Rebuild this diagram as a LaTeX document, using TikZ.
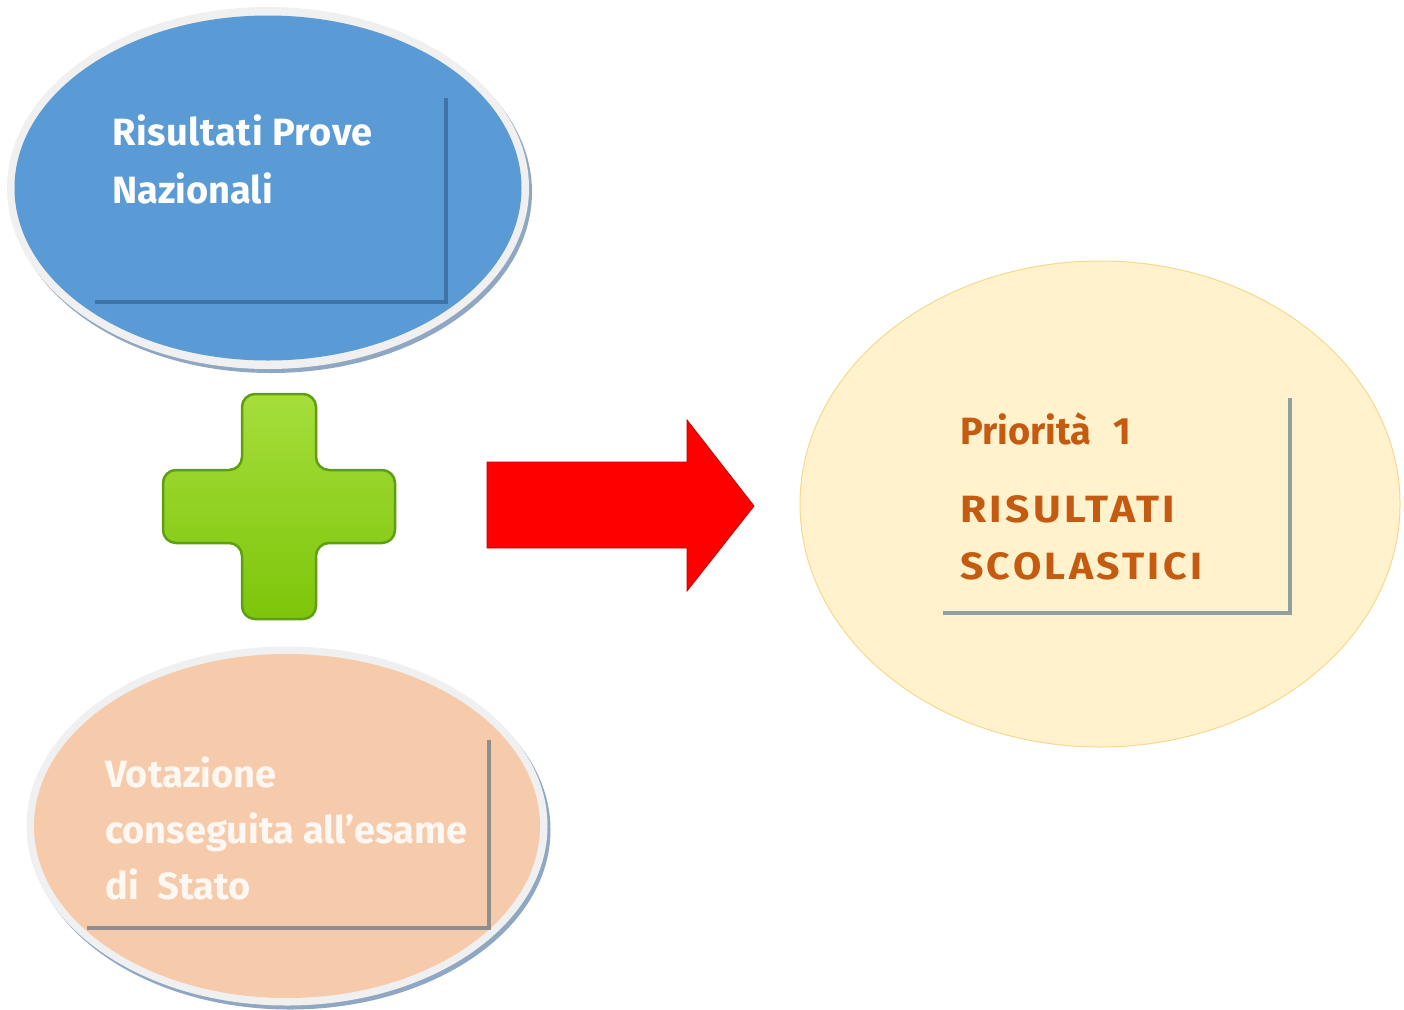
\documentclass[tikz,border=0pt]{standalone}
\usepackage{fontspec}
\setmainfont{Fira Sans}
\usetikzlibrary{shapes.geometric}
\definecolor{blueF}{HTML}{5B9BD5}
\definecolor{blueL}{HTML}{3F74A8}
\definecolor{rim}{HTML}{F0F0F0}
\definecolor{shad}{HTML}{8FA7C2}
\definecolor{peach}{HTML}{F6CBAC}
\definecolor{peachT}{HTML}{FFF7F1}
\definecolor{greyL}{HTML}{8E8E8E}
\definecolor{cream}{HTML}{FFF2CC}
\definecolor{creamB}{HTML}{F5D98E}
\definecolor{orangeT}{HTML}{C55A11}
\definecolor{greyB}{HTML}{8FA0A0}
\definecolor{greenA}{HTML}{A6DE3C}
\definecolor{greenB}{HTML}{7DC50A}
\definecolor{greenO}{HTML}{5E9E10}
\definecolor{redA}{HTML}{FF0000}
\definecolor{redO}{HTML}{C00000}
\tikzset{
  rimshadow/.style={ellipse, fill=shad, draw=none, inner sep=0pt},
  rimell/.style={ellipse, fill=rim, draw=none, inner sep=0pt},
  bodyell/.style={ellipse, draw=none, inner sep=0pt},
  txt/.style={anchor=base west, inner sep=0pt, font=\fontsize{38}{46}\selectfont\bfseries},
  frameline/.style={line width=4pt},
}
\begin{document}
\begin{tikzpicture}[x=1pt,y=-1pt]
\useasboundingbox (0,0) rectangle (1404,1009);
% ---- top ellipse
\node[rimshadow, minimum width=522pt, minimum height=362pt] (ts) at (271,192) {};
\node[rimell, minimum width=522pt, minimum height=362pt] (tr) at (268,188) {};
\node[bodyell, fill=blueF, minimum width=507pt, minimum height=345pt] (top) at (268,188) {};
\coordinate (t1) at (446,98);
\coordinate (t2) at (446,302);
\coordinate (t3) at (95,302);
\draw[frameline, draw=blueL] (t1) -- (t2) -- (t3);
\node[txt, text=white] (tA) at (112,145) {\addfontfeature{LetterSpace=1.5}Risultati Prove};
\node[txt, text=white] (tB) at (112,203) {Nazionali};
% ---- bottom ellipse
\node[rimshadow, minimum width=521pt, minimum height=359pt] (bs) at (290,830) {};
\node[rimell, minimum width=521pt, minimum height=359pt] (br) at (287,826) {};
\node[bodyell, fill=peach, minimum width=506pt, minimum height=344pt] (bot) at (287,826) {};
\coordinate (b1) at (489,740);
\coordinate (b2) at (489,928);
\coordinate (b3) at (87,928);
\draw[frameline, draw=greyL] (b1) -- (b2) -- (b3);
\node[txt, text=peachT] (bA) at (105,787) {Votazione};
\node[txt, text=peachT] (bB) at (105,843) {conseguita all’esame};
\node[txt, text=peachT] (bC) at (105,899) {di\hspace{19pt}Stato};
% ---- right ellipse
\node[bodyell, fill=cream, draw=creamB, line width=1pt, minimum width=600pt, minimum height=486pt] (res) at (1100,504) {};
\coordinate (r1) at (1290,398);
\coordinate (r2) at (1290,613);
\coordinate (r3) at (943,613);
\draw[frameline, draw=greyB] (r1) -- (r2) -- (r3);
\node[txt, text=orangeT] (rA) at (960,444) {Priorità\hspace{22pt}1};
\node[txt, text=orangeT] (rB) at (960,522) {\scalebox{1.12}[1]{\addfontfeature{LetterSpace=8}RISULTATI}};
\node[txt, text=orangeT] (rC) at (960,579) {\scalebox{1.08}[1]{\addfontfeature{LetterSpace=8}SCOLASTICI}};
% ---- plus sign
\draw[draw=greenO, line width=2.5pt, top color=greenA, bottom color=greenB, rounded corners=13pt]
  (242,394) -- (316,394) -- (316,470) -- (395,470) -- (395,543) -- (316,543)
  -- (316,619) -- (242,619) -- (242,543) -- (163,543) -- (163,470) -- (242,470) -- cycle;
% ---- red arrow
\draw[fill=redA, draw=redO, line width=0.8pt]
  (487,462) -- (687,462) -- (687,420) -- (754,506) -- (687,591) -- (687,548) -- (487,548) -- cycle;
\end{tikzpicture}
\end{document}
